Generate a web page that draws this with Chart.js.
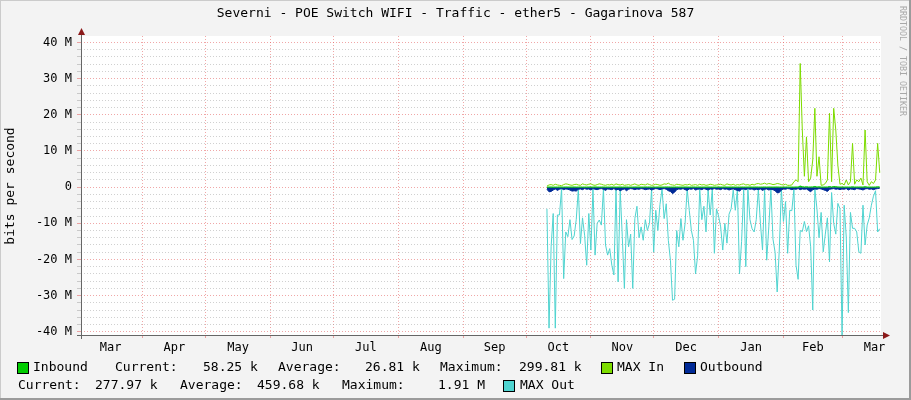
<html>
<head>
<meta charset="utf-8">
<title>Severni - POE Switch WIFI - Traffic - ether5 - Gagarinova 587</title>
<style>
html, body {
  margin:0px;
  background:#f3f3f3;
}
</style>
<script src="https://cdn.jsdelivr.net/npm/chart.js@4/dist/chart.umd.min.js"></script>
</head>
<body>
<canvas id="myChart" width="911" height="400"></canvas>
<script>
// days are counted from 1 March of the first year, one sample per day
const firstDay = 224;

// MAX Out, Mbit/s (drawn below zero)
const maxOut = [6, 39, 16.5, 7.3, 39, 7.7, 7.7, 0.3, 25.3, 12.4, 13.7, 9, 14.5, 13.5, 9, 0.5, 15.6, 8.5, 13.3, 21.6,
  7.3, 17.4, 0.5, 18.8, 10, 9.1, 10.5, 0.5, 16, 18.8, 17, 21.6, 24.3, 0.5, 26.2, 0.8, 13.7, 28, 9, 16.5,
  13, 28, 8.7, 5.3, 14, 11, 14.7, 9, 12, 10, 0.5, 18, 6.4, 12, 4.8, 0.5, 8.7, 4.6, 14.7, 20.2,
  31.3, 31, 12, 16.5, 8.7, 14.7, 10, 0.5, 6.4, 12, 14.7, 24, 19, 0.5, 9, 5.3, 12.4, 0.5, 7.7, 0.5,
  18.3, 6, 8, 11, 17.4, 10, 15.5, 7.5, 6, 0.8, 6.4, 0.5, 24, 15, 0.5, 22, 0.5, 9, 11.5, 12.4,
  9, 0.5, 10, 17.4, 0.5, 20.2, 11, 0.5, 14.4, 18, 29, 17.4, 0.5, 9.5, 4, 18.3, 6.4, 6.5, 0.5, 21.6,
  25.5, 12, 12.3, 9.5, 12.3, 10.7, 16.5, 34, 0.5, 6, 14, 7, 17.9, 13, 8.5, 20.7, 1.5, 10, 13, 4.5,
  6, 41.5, 5, 13.8, 34.7, 7, 11.4, 11.4, 12.4, 17.9, 18.3, 5, 16, 10.5, 8.5, 5, 2.5, 1, 12.4, 11.5];

// MAX In, Mbit/s
const maxIn = [0.3, 0.6, 0.7, 0.5, 0.8, 0.6, 0.5, 0.4, 0.7, 0.9, 0.8, 0.6, 0.5, 0.7, 0.8, 0.6, 0.5, 0.9, 0.7, 0.6,
  0.8, 0.9, 0.6, 0.5, 0.7, 0.9, 0.8, 0.6, 0.5, 0.7, 0.6, 0.8, 0.5, 0.9, 0.7, 0.6, 0.8, 0.5, 0.6, 0.7,
  0.5, 0.7, 0.9, 0.6, 0.5, 0.8, 0.7, 0.6, 0.9, 0.7, 0.5, 0.6, 0.8, 0.7, 0.5, 0.6, 0.9, 0.8, 1.1, 0.7,
  0.6, 0.5, 0.8, 0.7, 0.6, 0.5, 0.7, 0.6, 0.8, 0.5, 0.6, 0.7, 0.5, 0.8, 0.6, 0.7, 0.5, 0.6, 0.8, 0.7,
  0.5, 0.6, 0.7, 0.8, 0.6, 0.5, 0.9, 0.7, 0.6, 0.8, 0.5, 0.7, 0.6, 0.8, 0.9, 0.6, 0.7, 0.5, 0.8, 0.6,
  0.9, 1.0, 0.8, 0.9, 1.1, 0.8, 1.0, 0.9, 0.7, 0.8, 1.0, 0.9, 0.7, 0.6, 0.8, 0.5, 0.5, 0.6, 1.5, 2,
  1.5, 34.2, 15.8, 3, 13.9, 1.5, 2.5, 7.5, 21.8, 3, 8.4, 0.5, 0.6, 1, 2, 20.4, 1.5, 21.8, 15.8, 6,
  0.8, 1, 0.6, 2, 0.6, 1.5, 12.1, 0.8, 2, 1.5, 2.5, 0.6, 15.8, 1.5, 0.5, 1.5, 1, 2, 12.1, 4];

// Outbound average, Mbit/s (area below zero)
const outbound = [0.6, 1.3, 1.2, 0.8, 0.5, 0.9, 0.6, 0.4, 0.7, 0.5, 0.6, 0.8, 1.1, 1.0, 1.1, 0.6, 0.5, 0.7, 0.4, 0.6,
  0.5, 0.8, 0.4, 0.6, 0.7, 0.5, 0.4, 0.6, 0.9, 0.5, 0.6, 0.7, 0.4, 0.8, 0.6, 1.0, 0.7, 0.5, 1.0, 0.6,
  0.4, 0.5, 0.7, 0.5, 0.6, 0.4, 0.5, 0.7, 0.6, 0.5, 0.8, 0.6, 0.4, 0.5, 0.7, 0.5, 0.4, 0.6, 1.0, 1.2,
  1.8, 1.4, 0.7, 0.5, 0.6, 0.4, 0.7, 0.9, 0.5, 0.6, 0.4, 0.8, 0.6, 0.5, 0.7, 0.4, 0.6, 0.8, 0.5, 0.6,
  0.4, 0.6, 0.5, 0.7, 0.4, 0.6, 0.5, 0.8, 0.6, 0.5, 0.7, 0.9, 1.1, 0.6, 0.5, 0.7, 0.4, 0.6, 0.5, 0.8,
  0.6, 0.7, 0.5, 0.9, 0.6, 0.5, 0.8, 0.6, 0.7, 1.0, 1.6, 1.5, 0.8, 0.5, 0.6, 0.4, 0.5, 0.7, 0.5, 0.6,
  0.4, 0.7, 0.5, 0.6, 0.5, 0.9, 1.3, 0.7, 0.5, 0.6, 0.4, 0.5, 0.7, 0.9, 1.2, 0.6, 0.5, 0.4, 0.6, 0.5,
  0.7, 0.5, 0.6, 0.4, 0.8, 0.5, 0.6, 0.7, 0.4, 0.5, 0.6, 0.8, 0.5, 0.4, 0.6, 0.5, 0.7, 0.5, 0.4, 0.3];

// Inbound average, Mbit/s
const inbound = [0.03, 0.02, 0.04, 0.02, 0.03, 0.02, 0.05, 0.03, 0.02, 0.04, 0.03, 0.02, 0.03, 0.05, 0.02, 0.03, 0.04, 0.02, 0.03, 0.02,
  0.04, 0.03, 0.02, 0.05, 0.03, 0.02, 0.03, 0.04, 0.02, 0.03, 0.02, 0.04, 0.03, 0.02, 0.03, 0.05, 0.02, 0.03, 0.04, 0.02,
  0.03, 0.02, 0.04, 0.03, 0.02, 0.03, 0.02, 0.05, 0.03, 0.04, 0.02, 0.03, 0.02, 0.04, 0.03, 0.02, 0.03, 0.05, 0.04, 0.03,
  0.02, 0.03, 0.04, 0.02, 0.03, 0.02, 0.04, 0.03, 0.02, 0.03, 0.05, 0.02, 0.03, 0.04, 0.02, 0.03, 0.02, 0.04, 0.03, 0.02,
  0.03, 0.02, 0.04, 0.03, 0.02, 0.05, 0.03, 0.02, 0.03, 0.04, 0.02, 0.03, 0.02, 0.04, 0.03, 0.02, 0.03, 0.05, 0.02, 0.03,
  0.04, 0.03, 0.02, 0.03, 0.05, 0.02, 0.04, 0.03, 0.02, 0.03, 0.04, 0.02, 0.03, 0.02, 0.04, 0.03, 0.02, 0.03, 0.02, 0.04,
  0.03, 0.30, 0.12, 0.04, 0.10, 0.03, 0.05, 0.06, 0.18, 0.03, 0.07, 0.02, 0.03, 0.04, 0.03, 0.16, 0.03, 0.17, 0.12, 0.05,
  0.03, 0.04, 0.02, 0.04, 0.03, 0.03, 0.09, 0.03, 0.04, 0.03, 0.05, 0.02, 0.12, 0.03, 0.02, 0.03, 0.03, 0.04, 0.09, 0.06];

// x axis: month boundaries (grid) and month middles (labels)
const monthStarts = [31, 61, 92, 122, 153, 184, 214, 245, 275, 306, 337, 365];
const monthMids = [15.5, 46, 76.5, 107, 137.5, 168.5, 199, 229.5, 260, 290.5, 321.5, 351, 380.5];
const monthNames = ['Mar', 'Apr', 'May', 'Jun', 'Jul', 'Aug', 'Sep', 'Oct', 'Nov', 'Dec', 'Jan', 'Feb', 'Mar'];

// y axis in Mbit/s
const yMajor = [-40, -30, -20, -10, 0, 10, 20, 30, 40];
const yMinorStep = 2;

const title = 'Severni - POE Switch WIFI - Traffic - ether5 - Gagarinova 587';
const legendStats = {
  inCurrent: '58.25 k', inAverage: '26.81 k', inMaximum: '299.81 k',
  outCurrent: '277.97 k', outAverage: '459.68 k', outMaximum: '1.91 M'
};

const colInbound = '#00cc00';
const colMaxIn = '#7ddc00';
const colOutbound = '#002a97';
const colMaxOut = '#4fd4d0';
const majorGrid = 'rgba(225, 80, 80, 0.5)';
const minorGrid = 'rgba(150, 150, 150, 0.45)';
const FONT = '"DejaVu Sans Mono", monospace';

function points(values, sign) {
  return values.map(function(v, i) { return {x: firstDay + i, y: sign * v}; });
}

const rrdBackground = {
  id: 'rrdBackground',
  beforeDraw(chart) {
    const ctx = chart.ctx, a = chart.chartArea;
    ctx.save();
    ctx.fillStyle = '#f3f3f3';
    ctx.fillRect(0, 0, chart.width, chart.height);
    ctx.fillStyle = '#ffffff';
    ctx.fillRect(a.left, a.top, a.right - a.left, a.bottom - a.top);
    ctx.restore();
  }
};

function legendBox(ctx, x, y, color) {
  ctx.fillStyle = color;
  ctx.fillRect(x, y - 5, 10, 10);
  ctx.strokeStyle = '#000';
  ctx.lineWidth = 1;
  ctx.strokeRect(x - 0.5, y - 5.5, 11, 11);
}

const rrdFrame = {
  id: 'rrdFrame',
  afterDatasetsDraw(chart) {
    const ctx = chart.ctx, a = chart.chartArea;
    ctx.save();
    // axes
    ctx.strokeStyle = '#666';
    ctx.lineWidth = 1;
    ctx.beginPath();
    ctx.moveTo(a.left - 4, a.bottom + 0.5);
    ctx.lineTo(a.right + 4, a.bottom + 0.5);
    ctx.moveTo(a.left + 0.5, a.bottom + 4);
    ctx.lineTo(a.left + 0.5, a.top - 3);
    ctx.stroke();
    // arrows
    ctx.fillStyle = '#8b1a1a';
    ctx.beginPath();
    ctx.moveTo(a.right + 2, a.bottom - 3);
    ctx.lineTo(a.right + 9, a.bottom + 0.5);
    ctx.lineTo(a.right + 2, a.bottom + 4);
    ctx.closePath();
    ctx.fill();
    ctx.beginPath();
    ctx.moveTo(a.left - 3, a.top - 1);
    ctx.lineTo(a.left + 0.5, a.top - 8);
    ctx.lineTo(a.left + 4, a.top - 1);
    ctx.closePath();
    ctx.fill();
    ctx.restore();
  },
  afterDraw(chart) {
    const ctx = chart.ctx;
    ctx.save();
    // outer shade
    ctx.fillStyle = '#cbcbcb';
    ctx.fillRect(0, 0, chart.width, 1);
    ctx.fillRect(0, 0, 1, chart.height);
    ctx.fillStyle = '#9b9b9b';
    ctx.fillRect(chart.width - 2, 0, 2, chart.height);
    ctx.fillRect(0, chart.height - 2, chart.width, 2);

    ctx.fillStyle = '#000';
    ctx.textBaseline = 'middle';
    ctx.font = '13px ' + FONT;
    ctx.textAlign = 'center';
    ctx.fillText(title, 455.5, 14);

    // y axis title
    ctx.save();
    ctx.translate(11, 186);
    ctx.rotate(-Math.PI / 2);
    ctx.fillText('bits per second', 0, 0);
    ctx.restore();

    // watermark
    ctx.save();
    ctx.translate(902, 6);
    ctx.rotate(Math.PI / 2);
    ctx.textAlign = 'left';
    ctx.font = '8.3px ' + FONT;
    ctx.fillStyle = '#a8a8a8';
    ctx.fillText('RRDTOOL / TOBI OETIKER', 0, 0);
    ctx.restore();

    // legend
    const r1 = 368, r2 = 386;
    ctx.textAlign = 'left';
    legendBox(ctx, 18, r1, colInbound);
    legendBox(ctx, 602, r1, colMaxIn);
    legendBox(ctx, 685, r1, colOutbound);
    legendBox(ctx, 504, r2, colMaxOut);
    ctx.fillStyle = '#000';
    ctx.font = '13px ' + FONT;
    ctx.fillText('Inbound', 33, r1);
    ctx.fillText('Current:', 115, r1);
    ctx.fillText(legendStats.inCurrent, 203, r1);
    ctx.fillText('Average:', 278, r1);
    ctx.fillText(legendStats.inAverage, 365, r1);
    ctx.fillText('Maximum:', 440, r1);
    ctx.fillText(legendStats.inMaximum, 519, r1);
    ctx.fillText('MAX In', 617, r1);
    ctx.fillText('Outbound', 700, r1);
    ctx.fillText('Current:', 18, r2);
    ctx.fillText(legendStats.outCurrent, 95, r2);
    ctx.fillText('Average:', 180, r2);
    ctx.fillText(legendStats.outAverage, 257, r2);
    ctx.fillText('Maximum:', 342, r2);
    ctx.fillText(legendStats.outMaximum, 438, r2);
    ctx.fillText('MAX Out', 520, r2);
    ctx.restore();
  }
};

const ctx = document.getElementById('myChart');
const myChart = new Chart(ctx, {
  type: 'line',
  data: {
    datasets: [{
      label: 'Inbound',
      data: points(inbound, 1),
      borderColor: colInbound,
      backgroundColor: colInbound,
      borderWidth: 1,
      fill: 'origin',
      order: 1
    }, {
      label: 'MAX In',
      data: points(maxIn, 1),
      borderColor: colMaxIn,
      borderWidth: 1,
      fill: false,
      order: 2
    }, {
      label: 'Outbound',
      data: points(outbound, -1),
      borderColor: colOutbound,
      backgroundColor: colOutbound,
      borderWidth: 1,
      fill: 'origin',
      order: 3
    }, {
      label: 'MAX Out',
      data: points(maxOut, -1),
      borderColor: colMaxOut,
      borderWidth: 1,
      fill: false,
      order: 4
    }]
  },
  options: {
    responsive: false,
    devicePixelRatio: 1,
    animation: false,
    events: [],
    layout: {padding: {left: 0, right: 30, top: 36, bottom: 0}},
    elements: {point: {radius: 0}, line: {tension: 0}},
    plugins: {
      legend: {display: false},
      title: {display: false},
      tooltip: {enabled: false}
    },
    scales: {
      x: {
        type: 'linear',
        min: 1.4,
        max: 383.6,
        afterFit: function(scale) { scale.height = 65; },
        afterBuildTicks: function(scale) {
          const t = monthStarts.map(function(v) { return {value: v}; })
            .concat(monthMids.map(function(v) { return {value: v}; }));
          t.sort(function(p, q) { return p.value - q.value; });
          scale.ticks = t;
        },
        grid: {
          color: function(c) { return monthStarts.indexOf(c.tick.value) >= 0 ? majorGrid : 'rgba(0,0,0,0)'; },
          tickLength: 3,
          lineWidth: 1
        },
        border: {display: false, dash: [1, 2]},
        ticks: {
          autoSkip: false,
          maxRotation: 0,
          padding: 3,
          color: '#000',
          font: {family: FONT, size: 12},
          callback: function(v) {
            const k = monthMids.indexOf(v);
            return k >= 0 ? monthNames[k] : '';
          }
        }
      },
      y: {
        type: 'linear',
        min: -40.9,
        max: 41.8,
        afterFit: function(scale) { scale.width = 81; },
        afterBuildTicks: function(scale) {
          const t = [];
          for (let v = yMajor[0]; v <= yMajor[yMajor.length - 1]; v += yMinorStep) t.push({value: v});
          scale.ticks = t;
        },
        grid: {
          color: function(c) { return yMajor.indexOf(c.tick.value) >= 0 ? majorGrid : minorGrid; },
          tickLength: 4,
          lineWidth: 1
        },
        border: {display: false, dash: [1, 2]},
        ticks: {
          autoSkip: false,
          padding: 5,
          color: '#000',
          font: {family: FONT, size: 12},
          callback: function(v) {
            if (yMajor.indexOf(v) < 0) return '';
            return v === 0 ? '0' : v + ' M';
          }
        }
      }
    }
  },
  plugins: [rrdBackground, rrdFrame]
});
</script>
</body>
</html>
